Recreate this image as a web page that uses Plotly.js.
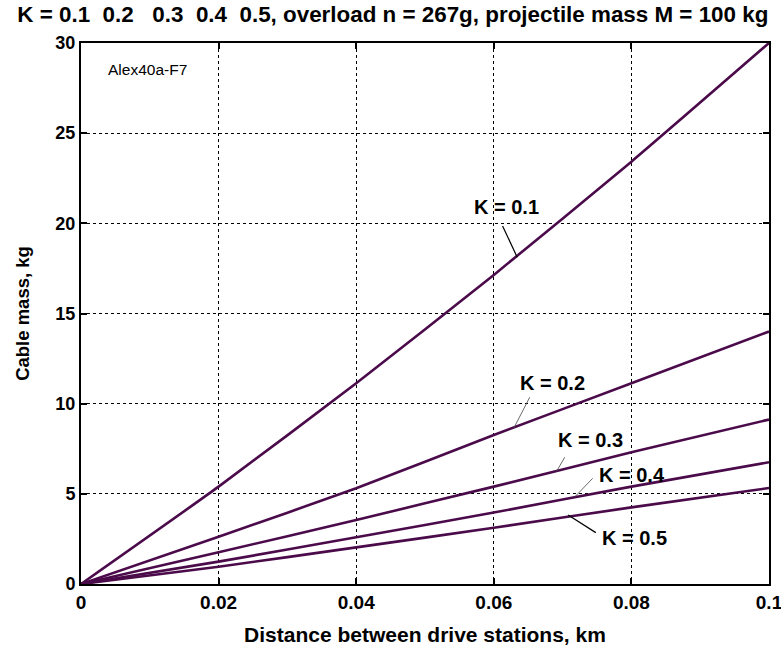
<!DOCTYPE html>
<html>
<head>
<meta charset="utf-8">
<script src="https://cdn.plot.ly/plotly-3.0.1.min.js"></script>
<style>html,body{margin:0;padding:0;background:#fff;}#chart{width:781px;height:654px;}</style>
</head>
<body>
<div id="chart"></div>
<script>
// Data
var distance = [0, 0.02, 0.04, 0.06, 0.08, 0.1];
var massK01 = [0, 5.40, 11.13, 17.14, 23.42, 30.0];
var massK02 = [0, 2.62, 5.31, 8.26, 11.13, 14.0];
var massK03 = [0, 1.76, 3.55, 5.40, 7.30, 9.12];
var massK04 = [0, 1.24, 2.59, 3.96, 5.40, 6.75];
var massK05 = [0, 0.96, 2.03, 3.12, 4.25, 5.32];
var seriesNames = ['K = 0.1', 'K = 0.2', 'K = 0.3', 'K = 0.4', 'K = 0.5'];
var xTicks = [0, 0.02, 0.04, 0.06, 0.08, 0.1];
var xTickText = ['0', '0.02', '0.04', '0.06', '0.08', '0.1'];
var yTicks = [0, 5, 10, 15, 20, 25, 30];

// label positions and pointer targets (data coordinates)
var labelX = [0.0618, 0.0686, 0.0740, 0.0801, 0.0804];
var labelY = [20.93, 11.15, 7.99, 6.05, 2.53];
var pointX = [0.0634, 0.0629, 0.0691, 0.0718, 0.0708];
var pointY = [18.12, 8.64, 6.23, 4.84, 3.83];
var tailDX = [-14.6, 16, 8.3, 17.7, 27.7];
var tailDY = [-31.3, -31, -14.4, -18.4, 17.7];
var pointerColor = ['#000', '#444', '#444', '#444', '#000'];
var pointerWidth = [1.2, 0.8, 0.8, 0.8, 1.2];

var FONT = 'Liberation Sans, Arial, Helvetica, sans-serif';
var lineColor = '#4b0b4b';
var allY = [massK01, massK02, massK03, massK04, massK05];
var traces = allY.map(function (ys, i) {
  return {
    x: distance, y: ys, type: 'scatter', mode: 'lines', name: seriesNames[i],
    line: {color: lineColor, width: 2.6, shape: 'spline', smoothing: 0.5},
    hoverinfo: 'skip'
  };
});

var annotations = [];
var shapes = [];
for (var i = 0; i < seriesNames.length; i++) {
  annotations.push({
    x: labelX[i], y: labelY[i], xref: 'x', yref: 'y', text: seriesNames[i],
    showarrow: false, font: {family: FONT, size: 20, color: '#000', weight: 'bold'},
    xanchor: 'center', yanchor: 'middle'
  });
  shapes.push({
    type: 'line', xref: 'x', yref: 'y',
    xsizemode: 'pixel', ysizemode: 'pixel',
    xanchor: pointX[i], yanchor: pointY[i],
    x0: 0, y0: 0, x1: tailDX[i], y1: -tailDY[i],
    line: {color: pointerColor[i], width: pointerWidth[i]}
  });
}
annotations.push({
  x: 0.037, y: 0.951, xref: 'paper', yref: 'paper', text: 'Alex40a-F7',
  showarrow: false, xanchor: 'left', yanchor: 'middle',
  font: {family: FONT, size: 15.5, color: '#000'}
});

var nb = '\u00a0';
var titleText = 'K = 0.1' + nb + nb + '0.2' + nb + nb + nb + '0.3' + nb + nb + '0.4' + nb + nb + '0.5, overload n = 267g, projectile mass M = 100 kg';

var axisCommon = {
  showline: true, linecolor: '#000', linewidth: 2, mirror: 'ticks',
  ticks: 'inside', ticklen: 6, tickwidth: 2, tickcolor: '#000',
  showgrid: true, gridcolor: '#000', gridwidth: 1, griddash: 'dot',
  zeroline: false, ticklabeloverflow: 'allow'
};

var layout = {
  width: 781, height: 654,
  margin: {l: 81, r: 12, t: 43, b: 70},
  paper_bgcolor: '#fff', plot_bgcolor: '#fff',
  showlegend: false,
  title: {
    text: titleText, x: 0.503, xref: 'container', xanchor: 'center', y: 0.978, yanchor: 'middle',
    font: {family: FONT, size: 22.4, color: '#000', weight: 'bold'}
  },
  xaxis: Object.assign({}, axisCommon, {
    range: [0, 0.1], tickvals: xTicks, ticktext: xTickText,
    tickfont: {family: FONT, size: 19, color: '#000', weight: 'bold'},
    title: {text: 'Distance between drive stations, km', standoff: 16,
      font: {family: FONT, size: 21, color: '#000', weight: 'bold'}}
  }),
  yaxis: Object.assign({}, axisCommon, {
    range: [0, 30], tickvals: yTicks,
    tickfont: {family: FONT, size: 18, color: '#000', weight: 'bold'},
    title: {text: 'Cable mass, kg', standoff: 21,
      font: {family: FONT, size: 18.5, color: '#000', weight: 'bold'}}
  }),
  shapes: shapes,
  annotations: annotations
};

Plotly.newPlot('chart', traces, layout, {displayModeBar: false, staticPlot: true});
</script>
</body>
</html>
